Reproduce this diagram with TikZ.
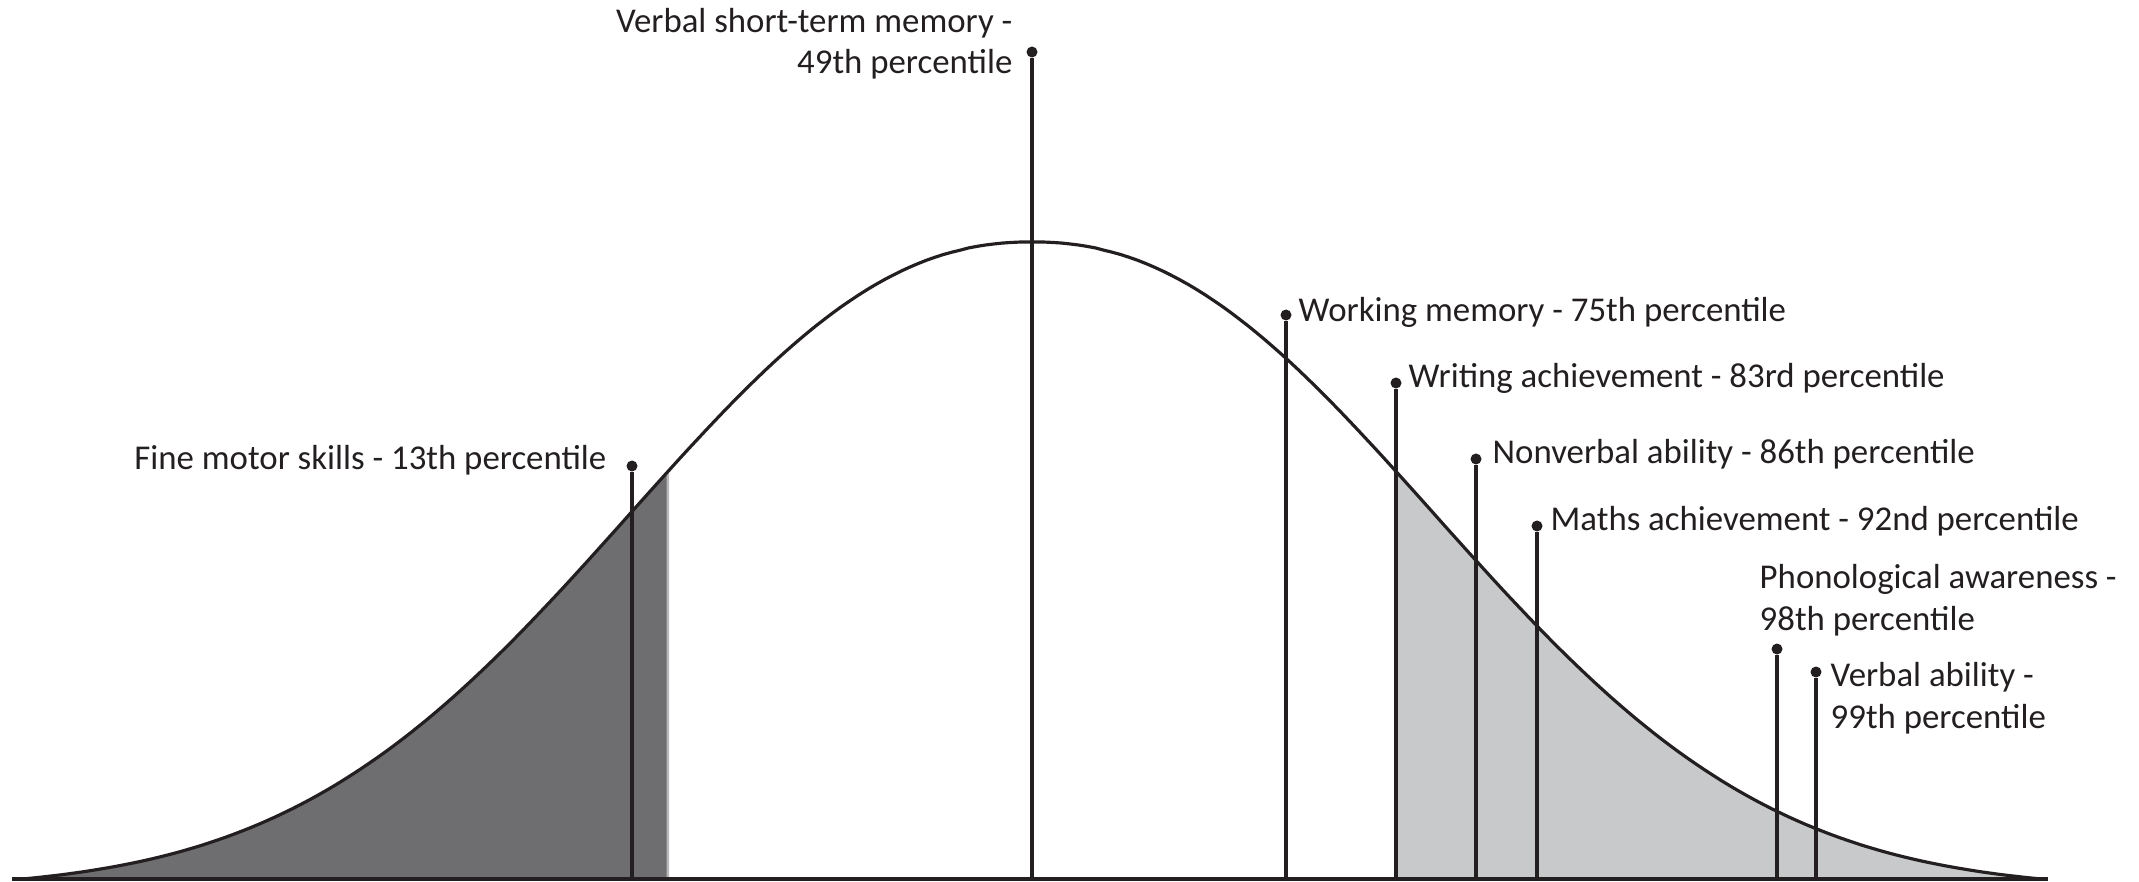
\documentclass[tikz,border=0pt]{standalone}
\usepackage{fontspec}
\setmainfont{Carlito}
\usepackage{tikz}
\usetikzlibrary{calc}

\definecolor{ink}{RGB}{35,31,32}
\definecolor{darkarea}{RGB}{110,110,112}
\definecolor{lightarea}{RGB}{200,201,203}
\definecolor{edgearea}{RGB}{185,185,187}

\begin{document}
\begin{tikzpicture}
% pixel grid of the original, y running down
[
    x=0.01cm, y=-0.01cm,
    declare function={bell(\t)=879-637*(exp(-(((abs(\t-1032)+0.01)/530)^2.2))-0.0161)/0.9839;},
    knob/.style={circle,fill=ink,inner sep=0pt,minimum size=0.11cm},
    stem/.style={draw=ink,line width=1pt},
    lbl/.style={inner sep=0pt,text=ink,font=\fontsize{9.9}{11.7}\selectfont}
]
\useasboundingbox (0,0) rectangle (2139,882);

% shaded tails
\fill[edgearea] plot[domain=22:669,samples=80] (\x,{bell(\x)}) -- (669,879) -- (22,879) -- cycle;
\fill[darkarea] plot[domain=22:666.5,samples=80] (\x,{bell(\x)}) -- (666.5,879) -- (22,879) -- cycle;
\fill[lightarea] plot[domain=1396:2042,samples=80] (\x,{bell(\x)}) -- (2042,879) -- (1396,879) -- cycle;

% curve and axis
\draw[ink,line width=0.9pt] plot[domain=22:2042,samples=240] (\x,{bell(\x)});
\coordinate (A0) at (12,879);
\coordinate (A1) at (2048,879);
\draw[stem] (A0) -- (A1);

% fine motor skills
\coordinate (b13) at (632,879);
\node[knob] (p13) at (632,466) {};
\draw[stem] (b13) -- (p13);
\node[lbl,anchor=base east] (l13) at (607,469) {Fine motor skills - 13th percentile};

% verbal short-term memory (base = last line)
\coordinate (b49) at (1032,879);
\node[knob] (p49) at (1032,52) {};
\draw[stem] (b49) -- (p49);
\node[lbl,anchor=base east,align=right] (l49) at (1013,74) {Verbal short-term memory -\\49th percentile};

% working memory
\coordinate (b75) at (1286,879);
\node[knob] (p75) at (1286,315) {};
\draw[stem] (b75) -- (p75);
\node[lbl,anchor=base west] (l75) at (1298,321) {Working memory - 75th percentile};

% writing achievement
\coordinate (b83) at (1396,879);
\node[knob] (p83) at (1396,383) {};
\draw[stem] (b83) -- (p83);
\node[lbl,anchor=base west] (l83) at (1408,387) {Writing achievement - 83rd percentile};

% nonverbal ability
\coordinate (b86) at (1476,879);
\node[knob] (p86) at (1476,459) {};
\draw[stem] (b86) -- (p86);
\node[lbl,anchor=base west] (l86) at (1492,463) {Nonverbal ability - 86th percentile};

% maths achievement
\coordinate (b92) at (1537,879);
\node[knob] (p92) at (1537,526) {};
\draw[stem] (b92) -- (p92);
\node[lbl,anchor=base west] (l92) at (1550,530) {Maths achievement - 92nd percentile};

% phonological awareness
\coordinate (b98) at (1777,879);
\node[knob] (p98) at (1777,649) {};
\draw[stem] (b98) -- (p98);
\node[lbl,anchor=base west,align=left] (l98) at (1759,630) {Phonological awareness -\\98th percentile};

% verbal ability
\coordinate (b99) at (1816,879);
\node[knob] (p99) at (1816,672) {};
\draw[stem] (b99) -- (p99);
\node[lbl,anchor=base west,align=left] (l99) at (1830,728) {Verbal ability -\\99th percentile};
\end{tikzpicture}
\end{document}
